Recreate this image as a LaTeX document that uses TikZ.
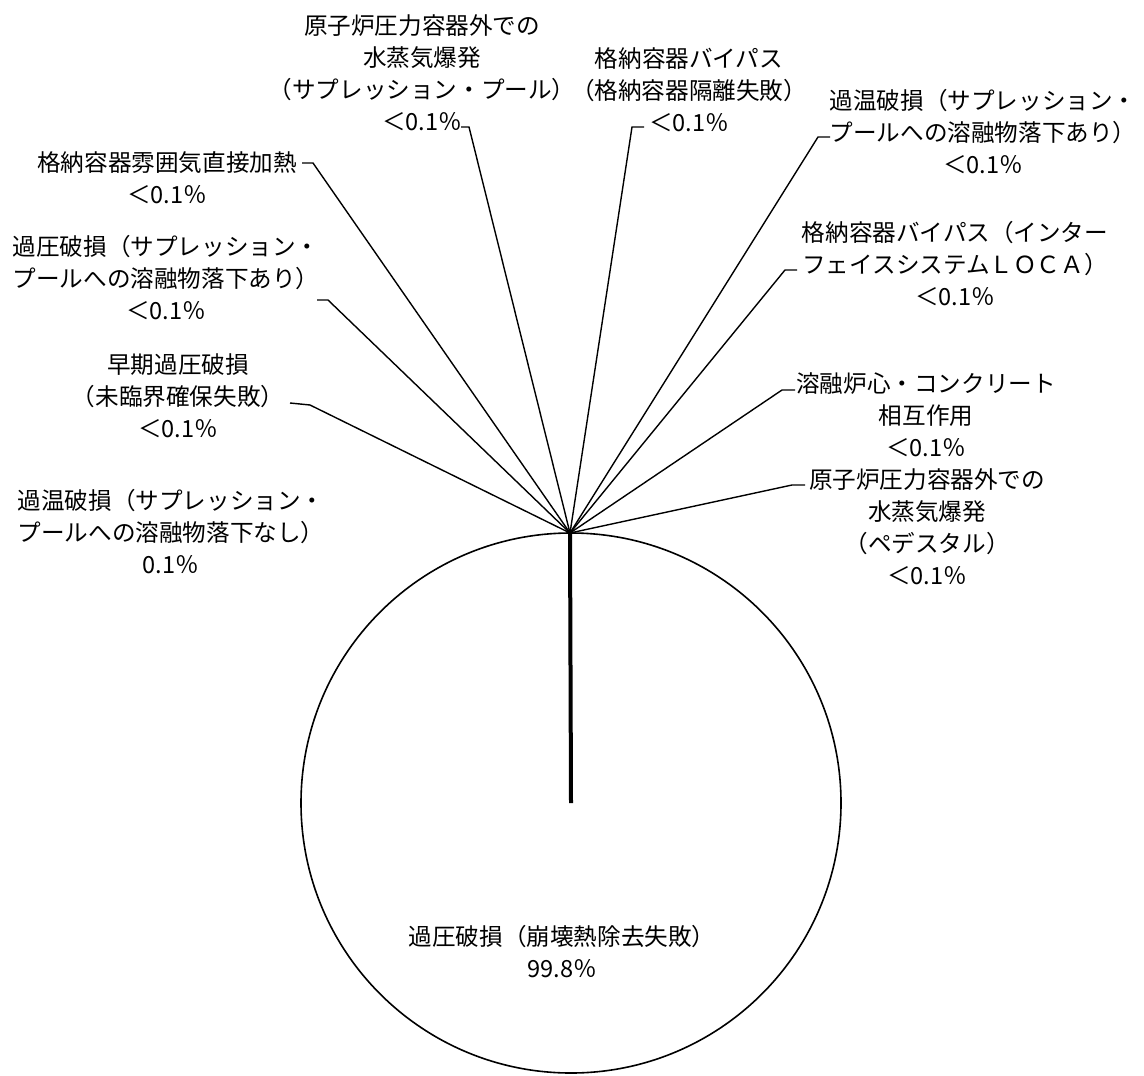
\documentclass[tikz,border=0pt]{standalone}
\usepackage{fontspec}
\setmainfont{Noto Sans CJK JP}

\begin{document}
\begin{tikzpicture}[x=0.5pt,y=-0.5pt,
  lbl/.style={align=center, inner sep=0pt, font=\fontsize{11.8}{16}\selectfont},
  leader/.style={line width=0.7pt}]
  \useasboundingbox (0,0) rectangle (1144,1075);
  % pie
  \coordinate (ctr) at (571,803);
  \coordinate (top) at (570,533);
  \draw[line width=0.8pt] (ctr) circle[radius=270];
  \draw[line width=2pt] (top) -- (ctr);
  % labels
  \node[lbl] (sbp) at (422,73) {原子炉圧力容器外での\\水蒸気爆発\\（サプレッション・プール）\\＜0.1％};
  \node[lbl] (byp) at (689,90) {格納容器バイパス\\（格納容器隔離失敗）\\＜0.1％};
  \node[lbl] (otA) at (983,132) {過温破損（サプレッション・\\プールへの溶融物落下あり）\\＜0.1％};
  \node[lbl] (isl) at (955,264) {格納容器バイパス（インター\\フェイスシステムＬＯＣＡ）\\＜0.1％};
  \node[lbl] (mcc) at (926,415) {溶融炉心・コンクリート\\相互作用\\＜0.1％};
  \node[lbl] (sep) at (927,527) {原子炉圧力容器外での\\水蒸気爆発\\（ペデスタル）\\＜0.1％};
  \node[lbl] (dch) at (167,178) {格納容器雰囲気直接加熱\\＜0.1％};
  \node[lbl] (opA) at (166,278) {過圧破損（サプレッション・\\プールへの溶融物落下あり）\\＜0.1％};
  \node[lbl] (atw) at (178,396) {早期過圧破損\\（未臨界確保失敗）\\＜0.1％};
  \node[lbl] (otN) at (171,532) {過温破損（サプレッション・\\プールへの溶融物落下なし）\\0.1％};
  \node[lbl] (opB) at (562,952) {過圧破損（崩壊熱除去失敗）\\99.8％};
  % leader hooks
  \coordinate (k1) at (469,127);
  \coordinate (k2) at (632,127);
  \coordinate (k3) at (818,137);
  \coordinate (k4) at (785,270);
  \coordinate (k5) at (782,390);
  \coordinate (k6) at (792,485);
  \coordinate (k7) at (313,163);
  \coordinate (k8) at (328,300);
  \coordinate (k9) at (310,405);
  \draw[leader] (top) -- (k1) -- ++(-8,0);
  \draw[leader] (top) -- (k2) -- ++(12,0);
  \draw[leader] (top) -- (k3) -- ++(12,0);
  \draw[leader] (top) -- (k4) -- ++(12,0);
  \draw[leader] (top) -- (k5) -- ++(13,0);
  \draw[leader] (top) -- (k6) -- ++(13,0);
  \draw[leader] (top) -- (k7) -- ++(-11,0);
  \draw[leader] (top) -- (k8) -- ++(-11,0);
  \draw[leader] (top) -- (k9) -- ++(-20,-2);
\end{tikzpicture}
\end{document}
